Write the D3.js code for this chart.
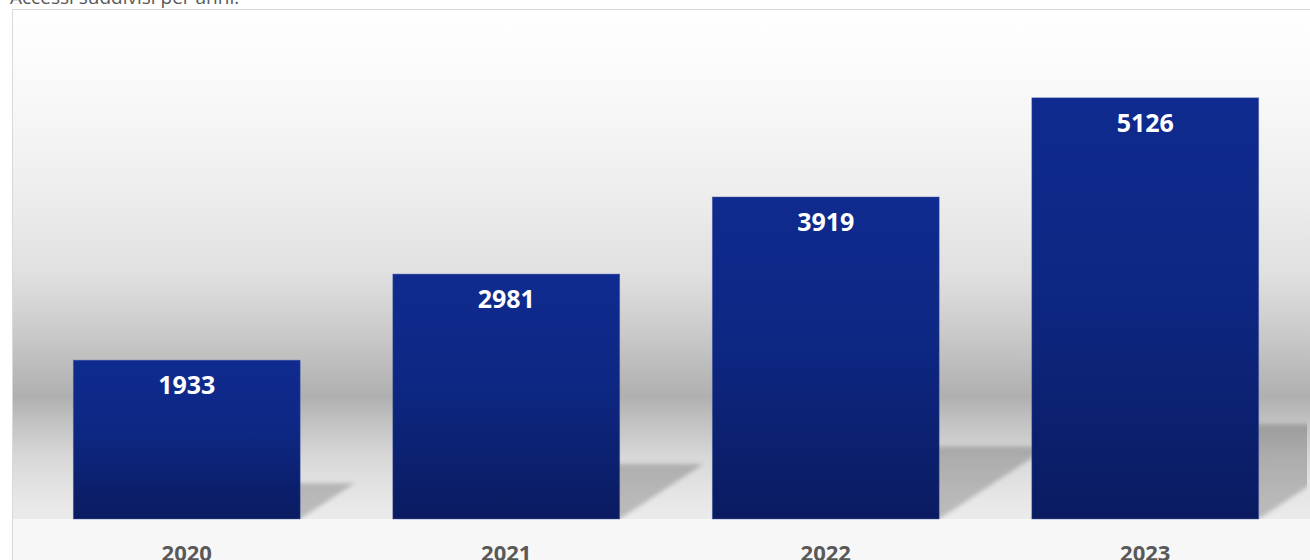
<!DOCTYPE html>
<html>
<head>
<meta charset="utf-8">
<script src="https://cdn.jsdelivr.net/npm/d3@7"></script>
<style>
  html, body { margin: 0; padding: 0; background: #ffffff; overflow: hidden; }
  svg { display: block; }
</style>
</head>
<body>
<svg id="chart" width="1310" height="560"></svg>
<script>
// Accessi per anno
const years = ["2020", "2021", "2022", "2023"];
const accessi = [1933, 2981, 3919, 5126];
const yTicks = [0, 6000];
const title = "Accessi suddivisi per anni.";

const W = 1310, H = 560;
const svg = d3.select("#chart");
const defs = svg.append("defs");

// Chart frame
const frame = { left: 12, top: 9, right: 1312, bottom: 565 };
const baseY = 519;

const x = d3.scaleBand()
  .domain(years)
  .range([27, 1305])
  .paddingInner(0.29)
  .paddingOuter(0.145);

const y = d3.scaleLinear()
  .domain(d3.extent(yTicks))
  .range([baseY, 26]);

// Wall gradient behind the bars
const wall = defs.append("linearGradient")
  .attr("id", "wall")
  .attr("gradientUnits", "userSpaceOnUse")
  .attr("x1", 0).attr("x2", 0)
  .attr("y1", frame.top).attr("y2", baseY);
[
  [0.00, "#ffffff"],
  [0.18, "#f8f8f8"],
  [0.38, "#ececec"],
  [0.52, "#e0e0e0"],
  [0.63, "#cbcbcb"],
  [0.71, "#bababa"],
  [0.76, "#b0b0b0"],
  [0.81, "#c2c2c2"],
  [0.88, "#d8d8d8"],
  [0.95, "#e5e5e5"],
  [1.00, "#ebebeb"]
].forEach(([o, c]) => wall.append("stop").attr("offset", o).attr("stop-color", c));

const barGrad = defs.append("linearGradient")
  .attr("id", "barGrad").attr("x1", 0).attr("y1", 0).attr("x2", 0).attr("y2", 1);
barGrad.append("stop").attr("offset", 0).attr("stop-color", "#0f2b8f");
barGrad.append("stop").attr("offset", 0.45).attr("stop-color", "#0d2783");
barGrad.append("stop").attr("offset", 1).attr("stop-color", "#0a1b60");

const blur = defs.append("filter").attr("id", "soft")
  .attr("x", "-20%").attr("y", "-20%").attr("width", "140%").attr("height", "140%");
blur.append("feGaussianBlur").attr("stdDeviation", 2.2);

defs.append("clipPath").attr("id", "plotClip")
  .append("rect").attr("x", frame.left + 1).attr("y", frame.top + 1)
  .attr("width", 1307 - frame.left - 1).attr("height", baseY - frame.top - 1);

// Title (partly above the view)
svg.append("text")
  .attr("x", 10).attr("y", 4)
  .attr("font-family", "'Open Sans', sans-serif")
  .attr("font-size", 19)
  .attr("fill", "#595959")
  .text(title);

// Frame + floor
svg.append("rect")
  .attr("x", frame.left + 0.5).attr("y", frame.top + 0.5)
  .attr("width", frame.right - frame.left).attr("height", frame.bottom - frame.top)
  .attr("fill", "#f7f7f7").attr("stroke", "#d9d9d9").attr("stroke-width", 1);

svg.append("rect")
  .attr("x", frame.left + 1).attr("y", frame.top + 1)
  .attr("width", W - frame.left).attr("height", baseY - frame.top - 1)
  .attr("fill", "url(#wall)");

const data = years.map((yr, i) => ({ year: yr, value: accessi[i] }));

// Cast shadows
const shadowG = svg.append("g").attr("clip-path", "url(#plotClip)");
shadowG.selectAll("path")
  .data(data)
  .join("path")
  .attr("d", d => {
    const x0 = x(d.year), x1 = x0 + x.bandwidth();
    const h = (baseY - y(d.value)) * 0.225;
    const dx = h * 1.52;
    return `M${x0},${baseY} L${x1},${baseY} L${x1 + dx},${baseY - h} L${x0 + dx},${baseY - h} Z`;
  })
  .attr("fill", "#000")
  .attr("fill-opacity", 0.2)
  .attr("filter", "url(#soft)");

// Bars
svg.append("g").selectAll("rect")
  .data(data)
  .join("rect")
  .attr("x", d => x(d.year))
  .attr("y", d => y(d.value))
  .attr("width", x.bandwidth())
  .attr("height", d => baseY - y(d.value))
  .attr("fill", "url(#barGrad)")
  .attr("stroke", "#4a5ea6")
  .attr("stroke-opacity", 0.55)
  .attr("stroke-width", 0.8);

// Value labels
svg.append("g").selectAll("text")
  .data(data)
  .join("text")
  .attr("x", d => x(d.year) + x.bandwidth() / 2)
  .attr("y", d => y(d.value) + 34)
  .attr("text-anchor", "middle")
  .attr("font-family", "'Open Sans', sans-serif")
  .attr("font-weight", "bold")
  .attr("font-size", 25)
  .attr("fill", "#ffffff")
  .text(d => d.value);

// Category axis
const xAxis = svg.append("g")
  .attr("transform", `translate(0,${baseY})`)
  .call(d3.axisBottom(x).tickSize(0).tickPadding(26));
xAxis.select(".domain").remove();
xAxis.selectAll("text")
  .attr("font-family", "'Open Sans', sans-serif")
  .attr("font-weight", "bold")
  .attr("font-size", 22)
  .attr("fill", "#595959");
</script>
</body>
</html>
